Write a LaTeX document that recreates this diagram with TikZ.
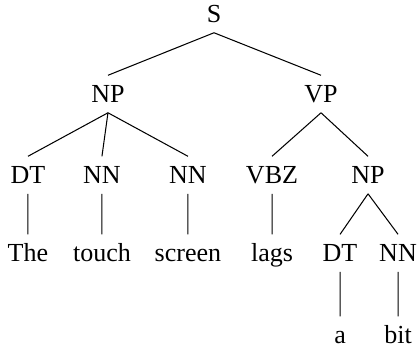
\documentclass[tikz,border=0pt]{standalone}
\usepackage{fontspec}
\setmainfont{Liberation Serif}
\usepackage{tikz}
\tikzset{every node/.style={text height=6.6pt,text depth=0pt,inner ysep=3.7pt}}

\begin{document}
\begin{tikzpicture}[scale=1.35]
  \useasboundingbox (-2.14,0.14) rectangle (2.03,-3.35);
  \draw (0,0) node (S) {S} +(-1.06,-.8) node (NP1) {NP} +(1.07,-.8) node (VP) {VP};
  \draw (S.south)--(NP1.north);
  \draw (S.south)--(VP.north);

  \draw (NP1) +(-.8,-.81) node (DT1) {DT} +(-.06,-.81) node (NN1) {NN} +(.8,-.81) node (NN2) {NN};
  \draw (NP1.south)--(DT1.north);
  \draw (NP1.south)--(NN1.north);
  \draw (NP1.south)--(NN2.north);

  \draw (VP) +(-.49,-.81) node (VBZ) {VBZ} +(.47,-.81) node (NP2) {NP};
  \draw (VP.south)--(VBZ.north);
  \draw (VP.south)--(NP2.north);

  \draw (DT1) +(0,-.78) node (W1) {The};
  \draw (NN1) +(0,-.78) node (W2) {touch};
  \draw (NN2) +(0,-.78) node (W3) {screen};
  \draw (VBZ) +(0,-.78) node (W4) {lags};
  \draw (DT1.south)--(W1.north);
  \draw (NN1.south)--(W2.north);
  \draw (NN2.south)--(W3.north);
  \draw (VBZ.south)--(W4.north);

  \draw (NP2) +(-.28,-.78) node (DT2) {DT} +(.3,-.78) node (NN3) {NN};
  \draw (NP2.south)--(DT2.north);
  \draw (NP2.south)--(NN3.north);

  \draw (DT2) +(0,-.82) node (W5) {a};
  \draw (NN3) +(0,-.82) node (W6) {bit};
  \draw (DT2.south)--(W5.north);
  \draw (NN3.south)--(W6.north);
\end{tikzpicture}
\end{document}
